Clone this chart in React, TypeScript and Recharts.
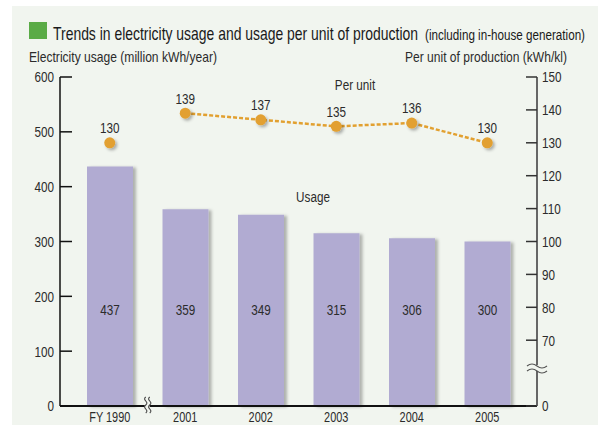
import React from "react";
import {
  ComposedChart, Bar, Line, XAxis, YAxis, LabelList,
} from "recharts";

const years = ["FY 1990", "2001", "2002", "2003", "2004", "2005"];
const usage = [437, 359, 349, 315, 306, 300];
const perUnit = [130, 139, 137, 135, 136, 130];
const leftTicks = [0, 100, 200, 300, 400, 500, 600];
// right axis is broken: bottom value 50 is printed as "0"
const rightTicks = [50, 70, 80, 90, 100, 110, 120, 130, 140, 150];

const data = years.map((year, i) => ({
  year,
  usage: usage[i],
  // 1990 point stands alone, the dashed line starts in 2001
  perUnitLine: i === 0 ? null : perUnit[i],
  perUnitBase: i === 0 ? perUnit[i] : null,
}));

const FONT = "'Liberation Sans', Arial, sans-serif";
const DOT = "#e2a030";
const BAR = "#b1abd2";
const INK = "#2b2b2b";
const BG = "#f1f5ef";
const SX = 0.78; // squeeze to mimic the condensed face

function SText({ x, y, anchor = "middle", size = 15, children }: any) {
  return (
    <text
      transform={`translate(${x},${y}) scale(${SX},1)`}
      textAnchor={anchor}
      dy="0.36em"
      fontSize={size}
      fontFamily={FONT}
      fill={INK}
    >
      {children}
    </text>
  );
}

// fixed-width heading text, squeezed the same way
function HText({ x, y, size, width, fill = INK, children }: any) {
  return (
    <text
      transform={`translate(${x},${y}) scale(${SX},1)`}
      fontSize={size}
      fontFamily={FONT}
      fill={fill}
      textLength={width / SX}
      lengthAdjust="spacingAndGlyphs"
    >
      {children}
    </text>
  );
}

function LeftTick(props: any) {
  const { x, y, payload } = props;
  return (
    <g>
      <line x1={x} x2={x + 12} y1={y} y2={y} stroke="#111" strokeWidth={1.5} />
      <SText x={x - 6} y={y} anchor="end">{payload.value}</SText>
    </g>
  );
}

function RightTick(props: any) {
  const { x, y, payload } = props;
  const bottom = payload.value === 50;
  return (
    <g>
      <line x1={x - 11} x2={x} y1={y} y2={y} stroke="#333" strokeWidth={1.5} />
      <SText x={x + 5} y={y} anchor="start">{bottom ? "0" : payload.value}</SText>
      {bottom && (
        <g>
          <rect x={x - 10} y={y - 41} width={20} height={6} fill={BG} />
          <path d={`M${x - 10},${y - 40} q5,-4 10,0 t10,0`} fill="none" stroke="#555" strokeWidth={1.2} />
          <path d={`M${x - 10},${y - 35} q5,-4 10,0 t10,0`} fill="none" stroke="#555" strokeWidth={1.2} />
        </g>
      )}
    </g>
  );
}

function XTick(props: any) {
  const { x, y, payload, index } = props;
  return (
    <g>
      <SText x={x} y={y + 11} size={14}>{payload.value}</SText>
      {index === 0 && (
        <g>
          <rect x={x + 35} y={y - 8} width={5} height={16} fill={BG} />
          <path d={`M${x + 36},${y - 9} c-4,3 4,5 0,8 c-4,3 4,5 0,8`} fill="none" stroke="#444" strokeWidth={1.1} />
          <path d={`M${x + 40},${y - 9} c-4,3 4,5 0,8 c-4,3 4,5 0,8`} fill="none" stroke="#444" strokeWidth={1.1} />
        </g>
      )}
    </g>
  );
}

function BarValue(p: any) {
  if (p.value == null) return null;
  return <SText x={p.x + p.width / 2} y={p.y + p.height - 96}>{p.value}</SText>;
}

function PointValue(p: any) {
  if (p.value == null) return null;
  return <SText x={p.x} y={p.y - 15}>{p.value}</SText>;
}

export default function App() {
  return (
    <div style={{ position: "absolute", left: 0, top: 0, width: 598, height: 425, background: "#fff" }}>
      <div style={{ position: "absolute", left: 12, top: 6, width: 586, height: 419, background: BG }} />
      <div style={{ position: "absolute", left: 0, top: 0 }}>
        <ComposedChart width={598} height={425} data={data} margin={{ top: 77, right: 0, bottom: 0, left: 0 }}>
          <defs>
            <filter id="barShadow" x="-10%" y="-5%" width="130%" height="110%">
              <feDropShadow dx={3} dy={1} stdDeviation={1.8} floodColor="#000" floodOpacity={0.28} />
            </filter>
            <filter id="dotShadow" x="-50%" y="-50%" width="220%" height="220%">
              <feDropShadow dx={2} dy={2} stdDeviation={1.5} floodColor="#000" floodOpacity={0.3} />
            </filter>
          </defs>
          <XAxis
            dataKey="year"
            height={19}
            padding={{ left: 12, right: 12 }}
            tickSize={0}
            tickMargin={0}
            tickLine={false}
            axisLine={{ stroke: "#111", strokeWidth: 2 }}
            tick={<XTick />}
            interval={0}
          />
          <YAxis
            yAxisId="left"
            width={60}
            domain={[0, 600]}
            ticks={leftTicks}
            tickSize={0}
            tickMargin={0}
            tickLine={false}
            axisLine={{ stroke: "#111", strokeWidth: 1.5 }}
            tick={<LeftTick />}
          />
          <YAxis
            yAxisId="right"
            orientation="right"
            width={61}
            domain={[50, 150]}
            ticks={rightTicks}
            tickSize={0}
            tickMargin={0}
            tickLine={false}
            axisLine={{ stroke: "#666", strokeWidth: 2 }}
            tick={<RightTick />}
          />
          <Bar
            yAxisId="left"
            dataKey="usage"
            fill={BAR}
            barSize={46}
            filter="url(#barShadow)"
            isAnimationActive={false}
          >
            <LabelList dataKey="usage" content={<BarValue />} />
          </Bar>
          <Line
            yAxisId="right"
            dataKey="perUnitLine"
            stroke={DOT}
            strokeWidth={2.5}
            strokeDasharray="4 2"
            dot={{ r: 5.5, fill: DOT, stroke: "none", filter: "url(#dotShadow)" }}
            activeDot={false}
            isAnimationActive={false}
          >
            <LabelList dataKey="perUnitLine" content={<PointValue />} />
          </Line>
          <Line
            yAxisId="right"
            dataKey="perUnitBase"
            stroke="none"
            dot={{ r: 5.5, fill: DOT, stroke: "none", filter: "url(#dotShadow)" }}
            activeDot={false}
            isAnimationActive={false}
          >
            <LabelList dataKey="perUnitBase" content={<PointValue />} />
          </Line>
        </ComposedChart>
      </div>
      <svg width={598} height={425} style={{ position: "absolute", left: 0, top: 0, pointerEvents: "none" }}>
        <rect x={29} y={22} width={18} height={17} fill="#5aab46" />
        <HText x={53} y={40} size={18} width={365} fill="#1a1a1a">
          Trends in electricity usage and usage per unit of production
        </HText>
        <HText x={425} y={40} size={14.5} width={160} fill="#1a1a1a">
          (including in-house generation)
        </HText>
        <HText x={29} y={62} size={14} width={188}>
          Electricity usage (million kWh/year)
        </HText>
        <HText x={405} y={62} size={14} width={162}>
          Per unit of production (kWh/kl)
        </HText>
        <SText x={355} y={85}>Per unit</SText>
        <SText x={313} y={197}>Usage</SText>
      </svg>
    </div>
  );
}
